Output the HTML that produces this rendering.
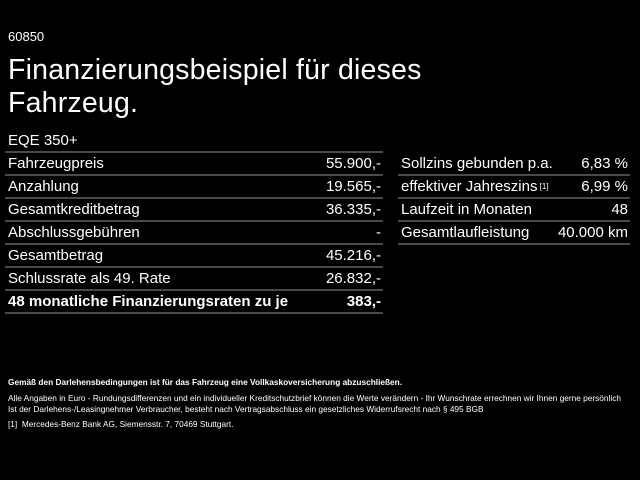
<!DOCTYPE html>
<html><head><meta charset="utf-8"><style>
body{margin:0;width:640px;height:480px;background:#000;color:#fff;font-family:"Liberation Sans",sans-serif;position:relative;overflow:hidden}
.a{position:absolute;white-space:nowrap}
.row{position:absolute;height:23px;border-bottom:2px solid #4a4a4a;box-sizing:border-box;font-size:15px;line-height:21px}
.row span{position:absolute}
.r{right:2px}
.l{left:3px}
sup{font-size:8px;line-height:0;position:relative;top:-2px;vertical-align:baseline}
</style></head><body>
<div class="a" style="left:8px;top:29px;font-size:13px">60850</div>
<div class="a" style="left:8px;top:54px;font-size:28.5px;line-height:33px;letter-spacing:0.2px">Finanzierungsbeispiel für dieses<br>Fahrzeug.</div>
<div class="row" style="left:5px;top:130px;width:378px"><span class="l">EQE 350+</span></div>
<div class="row" style="left:5px;top:153px;width:378px"><span class="l">Fahrzeugpreis</span><span class="r">55.900,-</span></div>
<div class="row" style="left:5px;top:176px;width:378px"><span class="l">Anzahlung</span><span class="r">19.565,-</span></div>
<div class="row" style="left:5px;top:199px;width:378px"><span class="l">Gesamtkreditbetrag</span><span class="r">36.335,-</span></div>
<div class="row" style="left:5px;top:222px;width:378px"><span class="l">Abschlussgebühren</span><span class="r">-</span></div>
<div class="row" style="left:5px;top:245px;width:378px"><span class="l">Gesamtbetrag</span><span class="r">45.216,-</span></div>
<div class="row" style="left:5px;top:268px;width:378px"><span class="l">Schlussrate als 49. Rate</span><span class="r">26.832,-</span></div>
<div class="row" style="left:5px;top:291px;width:378px;font-weight:bold"><span class="l">48 monatliche Finanzierungsraten zu je</span><span class="r">383,-</span></div>
<div class="row" style="left:398px;top:153px;width:232px"><span class="l">Sollzins gebunden p.a.</span><span class="r">6,83 %</span></div>
<div class="row" style="left:398px;top:176px;width:232px"><span class="l">effektiver Jahreszins<sup> [1]</sup></span><span class="r">6,99 %</span></div>
<div class="row" style="left:398px;top:199px;width:232px"><span class="l">Laufzeit in Monaten</span><span class="r">48</span></div>
<div class="row" style="left:398px;top:222px;width:232px"><span class="l">Gesamtlaufleistung</span><span class="r">40.000 km</span></div>
<div class="a" style="left:8px;top:377px;font-size:8.3px;font-weight:bold">Gemäß den Darlehensbedingungen ist für das Fahrzeug eine Vollkaskoversicherung abzuschließen.</div>
<div class="a" style="left:8px;top:393px;font-size:8.3px">Alle Angaben in Euro - Rundungsdifferenzen und ein individueller Kreditschutzbrief können die Werte verändern - Ihr Wunschrate errechnen wir Ihnen gerne persönlich</div>
<div class="a" style="left:8px;top:404px;font-size:8.3px">Ist der Darlehens-/Leasingnehmer Verbraucher, besteht nach Vertragsabschluss ein gesetzliches Widerrufsrecht nach § 495 BGB</div>
<div class="a" style="left:8px;top:419px;font-size:8.3px">[1]&nbsp; Mercedes-Benz Bank AG, Siemensstr. 7, 70469 Stuttgart.</div>
</body></html>
